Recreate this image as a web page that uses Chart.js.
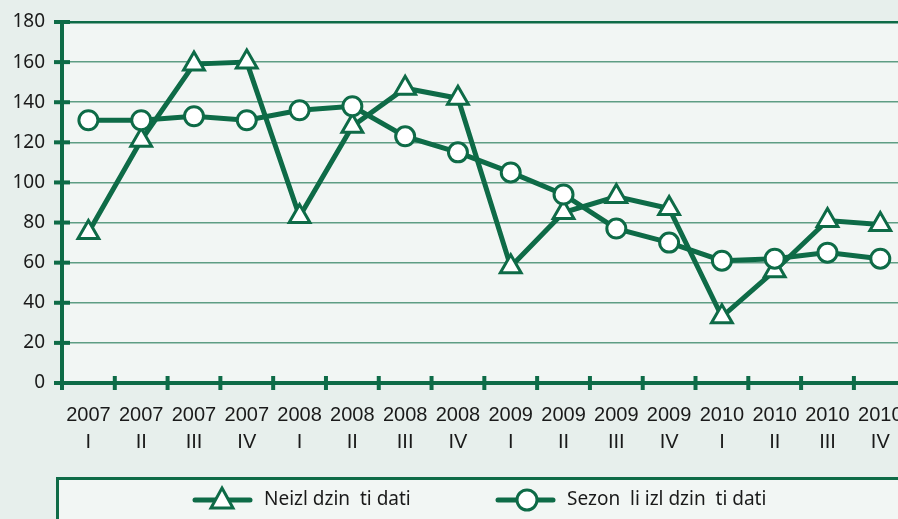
<!DOCTYPE html>
<html>
<head>
<meta charset="utf-8">
<script src="https://cdn.jsdelivr.net/npm/chart.js@4/dist/chart.umd.min.js"></script>
<style>
  html, body { margin: 0; padding: 0; overflow: hidden; background: #e7efec; }
  canvas { display: block; }
</style>
</head>
<body>
<canvas id="c" width="922" height="519"></canvas>
<script>
const years = ["2007", "2007", "2007", "2007", "2008", "2008", "2008", "2008",
               "2009", "2009", "2009", "2009", "2010", "2010", "2010", "2010"];
const quarters = ["I", "II", "III", "IV", "I", "II", "III", "IV",
                  "I", "II", "III", "IV", "I", "II", "III", "IV"];
const rawData = [75, 121, 159, 160, 83, 128, 147, 142, 58, 85, 93, 87, 33, 56, 81, 79];
const adjustedData = [131, 131, 133, 131, 136, 138, 123, 115, 105, 94, 77, 70, 61, 62, 65, 62];
const seriesNames = ["Neizl dzin  ti dati", "Sezon  li izl dzin  ti dati"];

const green = "#0e6b47";
const gridGreen = "#5f9d84";

Chart.defaults.font.family = "Noto Sans";
Chart.defaults.font.size = 19;

// two-line category labels: year over quarter
const labels = years.map((y, i) => [y, quarters[i]]);

const decor = {
  id: "decor",
  beforeDraw(chart) {
    const { ctx, chartArea: a } = chart;
    ctx.save();
    ctx.fillStyle = "#e7efec";
    ctx.fillRect(0, 0, chart.width, chart.height);
    ctx.fillStyle = "#f2f6f4";
    ctx.fillRect(a.left, a.top, a.right - a.left, a.bottom - a.top);
    // legend box
    ctx.fillStyle = "#f2f6f4";
    ctx.fillRect(56, 477, chart.width, 60);
    ctx.strokeStyle = green;
    ctx.lineWidth = 3;
    ctx.strokeRect(57.5, 478.5, chart.width, 60);
    ctx.restore();
  },
  afterDraw(chart) {
    const { ctx, chartArea: a, scales } = chart;
    ctx.save();
    ctx.strokeStyle = green;
    ctx.lineWidth = 4;
    // y ticks crossing the axis
    scales.y.ticks.forEach(t => {
      const py = scales.y.getPixelForValue(t.value);
      ctx.beginPath();
      ctx.moveTo(a.left - 8, py);
      ctx.lineTo(a.left + 8, py);
      ctx.stroke();
    });
    // x ticks between categories
    const step = scales.x.getPixelForValue(1) - scales.x.getPixelForValue(0);
    for (let i = 0; i <= years.length; i++) {
      const px = scales.x.getPixelForValue(i) - step / 2;
      ctx.beginPath();
      ctx.moveTo(px, a.bottom - 7);
      ctx.lineTo(px, a.bottom + 7);
      ctx.stroke();
    }
    // legend
    const ly = 500;
    const items = [
      { x0: 195, x1: 250, mx: 222, tx: 264, style: "triangle", name: seriesNames[0] },
      { x0: 498, x1: 553, mx: 527, tx: 567, style: "circle", name: seriesNames[1] }
    ];
    items.forEach(it => {
      ctx.strokeStyle = green;
      ctx.lineWidth = 5;
      ctx.lineCap = "round";
      ctx.beginPath();
      ctx.moveTo(it.x0, ly);
      ctx.lineTo(it.x1, ly);
      ctx.stroke();
      ctx.fillStyle = "#ffffff";
      ctx.lineWidth = 3;
      ctx.beginPath();
      if (it.style === "circle") {
        ctx.arc(it.mx, ly, 10, 0, Math.PI * 2);
      } else {
        ctx.moveTo(it.mx, ly - 12);
        ctx.lineTo(it.mx + 11, ly + 8);
        ctx.lineTo(it.mx - 11, ly + 8);
        ctx.closePath();
      }
      ctx.fill();
      ctx.stroke();
      ctx.fillStyle = "#1a1a1a";
      ctx.font = "19px 'Noto Sans'";
      ctx.textBaseline = "middle";
      ctx.fillText(it.name, it.tx, ly);
    });
    ctx.restore();
  }
};

new Chart(document.getElementById("c"), {
  type: "line",
  data: {
    labels: labels,
    datasets: [
      {
        label: seriesNames[0],
        data: rawData,
        borderColor: green,
        borderWidth: 5,
        pointStyle: "triangle",
        pointRadius: 12,
        pointBorderWidth: 3,
        pointBackgroundColor: "#ffffff",
        pointBorderColor: green,
        order: 1
      },
      {
        label: seriesNames[1],
        data: adjustedData,
        borderColor: green,
        borderWidth: 5,
        pointStyle: "circle",
        pointRadius: 9.5,
        pointBorderWidth: 3,
        pointBackgroundColor: "#ffffff",
        pointBorderColor: green,
        order: 0
      }
    ]
  },
  options: {
    responsive: false,
    animation: false,
    layout: { padding: { top: 22, right: 0, left: 0, bottom: 0 } },
    plugins: { legend: { display: false }, tooltip: { enabled: false } },
    scales: {
      x: {
        offset: true,
        grid: { display: false, drawTicks: false },
        border: { display: true, color: green, width: 4 },
        ticks: {
          color: "#1a1a1a",
          font: { family: "Liberation Sans", size: 20, lineHeight: 1.35 },
          padding: 19, maxRotation: 0, autoSkip: false
        },
        afterFit(s) { s.height = 136; }
      },
      y: {
        min: 0,
        max: 180,
        ticks: { stepSize: 20, color: "#1a1a1a", padding: 0 },
        grid: {
          drawTicks: true,
          tickLength: 17,
          tickColor: "rgba(0,0,0,0)",
          color: c => c.tick && c.tick.value === 180 ? green : gridGreen,
          lineWidth: c => c.tick && c.tick.value === 180 ? 2.5 : 1.5
        },
        border: { display: true, color: green, width: 4 },
        afterFit(s) { s.width = 62; }
      }
    }
  },
  plugins: [decor]
});
</script>
</body>
</html>
